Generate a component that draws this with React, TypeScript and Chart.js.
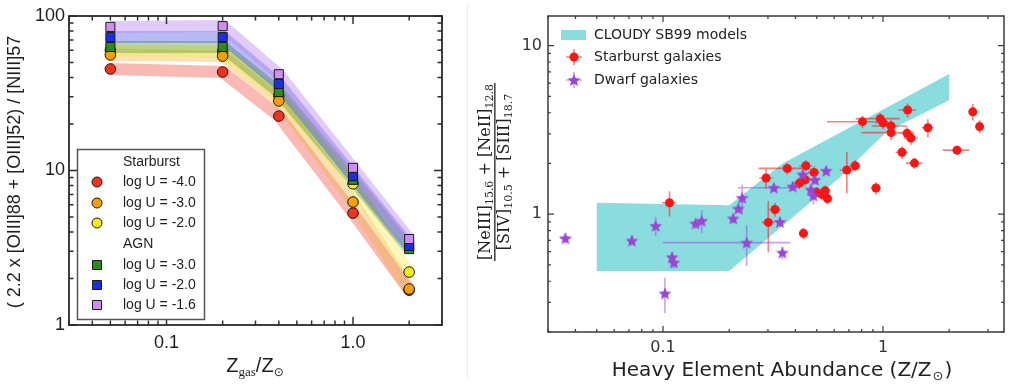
import React, { useEffect, useRef } from "react";
import { Chart, registerables } from "chart.js";
Chart.register(...registerables);

// ---------------- Left panel data ----------------
const Z_GRID = [0.05, 0.2, 0.4, 1.0, 2.0];
const SB_U40 = [45.4, 43.4, 22.5, 5.3, 1.68];
const SB_U30 = [56, 55, 28.2, 6.25, 1.71];
const SB_U20 = [60, 59, 30.5, 8.2, 2.2];
const AGN_U30 = [63, 63, 32.2, 8.7, 3.1];
const AGN_U20 = [73, 73, 36.3, 9.2, 3.25];
const AGN_U16 = [85, 86, 42, 10.4, 3.6];
const LEFT_LABELS = ["log U = -4.0", "log U = -3.0", "log U = -2.0", "log U = -3.0", "log U = -2.0", "log U = -1.6"];
const LEFT_X_TICKS = [0.03, 0.04, 0.05, 0.06, 0.07, 0.08, 0.09, 0.1, 0.2, 0.3, 0.4, 0.5, 0.6, 0.7, 0.8, 0.9, 1, 2, 3];
const LEFT_X_MAJOR = [0.1, 1];
const LEFT_X_MAJOR_LABELS = ["0.1", "1.0"];
const LEFT_Y_TICKS = [1, 2, 3, 4, 5, 6, 7, 8, 9, 10, 20, 30, 40, 50, 60, 70, 80, 90, 100];
const LEFT_Y_MAJOR = [1, 10, 100];
const LEFT_Y_MAJOR_LABELS = ["1", "10", "100"];

// ---------------- Right panel data ----------------
const MODEL_Z = [0.05, 0.05, 0.2, 0.35, 2.0, 2.0, 1.04, 0.64, 0.2, 0.05];
const MODEL_R = [0.46, 1.17, 1.13, 2.0, 6.8, 4.75, 3.1, 1.66, 0.46, 0.46];

const SB_Z = [0.107, 0.294, 0.367, 0.446, 0.486, 0.417, 0.443, 0.323, 0.301, 0.435, 0.5, 0.527, 0.546, 0.559, 0.685, 0.748, 0.929, 0.807, 0.972, 1.0, 1.088, 1.088, 1.294, 1.287, 1.34, 1.6, 1.22, 1.39, 2.17, 2.56, 2.75];
const SB_R = [1.17, 1.64, 1.87, 1.94, 1.77, 1.53, 1.6, 1.066, 0.894, 0.77, 1.35, 1.31, 1.38, 1.24, 1.83, 1.94, 1.43, 3.54, 3.69, 3.49, 3.34, 3.05, 4.15, 3.02, 2.83, 3.26, 2.33, 2.01, 2.4, 4.05, 3.31];
const SB_ZERR = [0.008, 0.02, 0.095, 0.03, 0.03, 0.03, 0.03, 0.02, 0.02, 0.02, 0.03, 0.03, 0.03, 0.03, 0.05, 0.04, 0.05, 0.25, 0.22, 0.08, 0.2, 0.29, 0.12, 0.1, 0.1, 0.1, 0.08, 0.12, 0.3, 0.1, 0.1];
const SB_RERR = [0.2, 0.23, 0.15, 0.15, 0.15, 0.12, 0.12, 0.1, 0.3, 0.06, 0.1, 0.1, 0.1, 0.1, 0.5, 0.15, 0.12, 0.3, 0.3, 0.3, 0.3, 0.3, 0.4, 0.25, 0.25, 0.4, 0.2, 0.15, 0.15, 0.45, 0.3];

const DW_Z = [0.036, 0.0722, 0.0926, 0.102, 0.11, 0.112, 0.1406, 0.15, 0.2085, 0.22, 0.229, 0.24, 0.34, 0.349, 0.319, 0.389, 0.432, 0.491, 0.47, 0.483, 0.552];
const DW_R = [0.72, 0.697, 0.853, 0.339, 0.556, 0.517, 0.881, 0.914, 0.943, 1.08, 1.25, 0.678, 0.9, 0.592, 1.436, 1.46, 1.72, 1.6, 1.4, 1.29, 1.81];
const DW_ZERR = [0.002, 0.003, 0.004, 0.004, 0.004, 0.004, 0.005, 0.006, 0.008, 0.008, 0.008, 0.14, 0.01, 0.01, 0.1, 0.02, 0.02, 0.02, 0.02, 0.02, 0.02];
const DW_RERR = [0.05, 0.05, 0.11, 0.08, 0.04, 0.04, 0.06, 0.14, 0.06, 0.06, 0.25, 0.185, 0.06, 0.05, 0.08, 0.08, 0.1, 0.1, 0.1, 0.15, 0.1];

const RIGHT_X_TICKS = [0.03, 0.04, 0.05, 0.06, 0.07, 0.08, 0.09, 0.1, 0.2, 0.3, 0.4, 0.5, 0.6, 0.7, 0.8, 0.9, 1, 2, 3];
const RIGHT_X_MAJOR = [0.1, 1];
const RIGHT_X_MAJOR_LABELS = ["0.1", "1"];
const RIGHT_Y_TICKS = [0.2, 0.3, 0.4, 0.5, 0.6, 0.7, 0.8, 0.9, 1, 2, 3, 4, 5, 6, 7, 8, 9, 10];
const RIGHT_Y_MAJOR = [1, 10];
const RIGHT_Y_MAJOR_LABELS = ["1", "10"];
const RIGHT_LEGEND = ["CLOUDY SB99 models", "Starburst galaxies", "Dwarf galaxies"];

// ---------------- styles ----------------
const SANS_L = '"Liberation Sans", Arial, Helvetica, sans-serif';
const SANS_R = '"DejaVu Sans", sans-serif';
const SERIF_R = '"DejaVu Serif", serif';
const MARK = ["#f0321e", "#f5a000", "#f5ea18", "#2f8a1c", "#1a2ee6", "#cf8ef0"];
const BAND = [
  "rgba(240,90,80,0.42)",
  "rgba(245,175,60,0.38)",
  "rgba(245,235,80,0.38)",
  "rgba(70,140,30,0.35)",
  "rgba(50,60,220,0.35)",
  "rgba(185,130,240,0.42)",
];
const CYAN = "#8adcde";
const RED = "#ff1414";
const PURPLE = "#9a45d6";

const near = (a: number, b: number) => Math.abs(a - b) < 1e-9 * Math.max(1, Math.abs(b));
const labelFor = (v: number, majors: number[], labels: string[]) => {
  const i = majors.findIndex((m) => near(m, v));
  return i >= 0 ? labels[i] : "";
};

function makeStar(color: string, size: number) {
  const c = document.createElement("canvas");
  c.width = size;
  c.height = size;
  const g = c.getContext("2d")!;
  const cx = size / 2, cy = size / 2 + 0.6, R = size / 2 - 0.3, r = R * 0.45;
  g.beginPath();
  for (let i = 0; i < 10; i++) {
    const ang = -Math.PI / 2 + (i * Math.PI) / 5;
    const rad = i % 2 === 0 ? R : r;
    const px = cx + rad * Math.cos(ang), py = cy + rad * Math.sin(ang);
    if (i === 0) g.moveTo(px, py);
    else g.lineTo(px, py);
  }
  g.closePath();
  g.fillStyle = color;
  g.fill();
  return c;
}

function frameTicks(chart: any, xMaj: number[], yMaj: number[], color: string, lw: number, major: number, minor: number) {
  const { ctx, chartArea: a, scales } = chart;
  const xs = scales.x, ys = scales.y;
  ctx.save();
  ctx.strokeStyle = color;
  ctx.lineWidth = lw * 0.8;
  ctx.beginPath();
  for (const t of xs.ticks) {
    const px = xs.getPixelForValue(t.value);
    const len = xMaj.some((m) => near(m, t.value)) ? major : minor;
    ctx.moveTo(px, a.bottom);
    ctx.lineTo(px, a.bottom - len);
    ctx.moveTo(px, a.top);
    ctx.lineTo(px, a.top + len);
  }
  for (const t of ys.ticks) {
    const py = ys.getPixelForValue(t.value);
    const len = yMaj.some((m) => near(m, t.value)) ? major : minor;
    ctx.moveTo(a.left, py);
    ctx.lineTo(a.left + len, py);
    ctx.moveTo(a.right, py);
    ctx.lineTo(a.right - len, py);
  }
  ctx.stroke();
  ctx.lineWidth = lw;
  ctx.strokeRect(a.left, a.top, a.right - a.left, a.bottom - a.top);
  ctx.restore();
}

function logAxis(min: number, max: number, ticks: number[], majors: number[], labels: string[], font: any, color: string, padding: number, fit: (s: any) => void) {
  return {
    type: "logarithmic" as const,
    min,
    max,
    afterBuildTicks: (s: any) => {
      s.ticks = ticks.map((v) => ({ value: v }));
    },
    afterFit: fit,
    ticks: {
      autoSkip: false,
      maxRotation: 0,
      minRotation: 0,
      padding,
      font,
      color,
      callback: (v: any) => labelFor(Number(v), majors, labels),
    },
    grid: { display: false, drawTicks: false },
    border: { display: false },
  };
}

export default function App() {
  const leftRef = useRef<HTMLCanvasElement>(null);
  const rightRef = useRef<HTMLCanvasElement>(null);

  useEffect(() => {
    // ---------------- LEFT ----------------
    const series = [SB_U40, SB_U30, SB_U20, AGN_U30, AGN_U20, AGN_U16];
    const styles = ["circle", "circle", "circle", "rect", "rect", "rect"];
    const markerOrder = [16, 14, 15, 13, 12, 11];
    const leftDatasets: any[] = [];
    series.forEach((vals, i) => {
      leftDatasets.push({
        label: "band " + LEFT_LABELS[i],
        data: Z_GRID.map((z, k) => ({ x: z, y: vals[k] })),
        borderColor: BAND[i],
        borderWidth: 12,
        borderCapStyle: "butt",
        borderJoinStyle: "miter",
        pointRadius: 0,
        fill: false,
        tension: 0,
        order: 26 - i,
      });
    });
    series.forEach((vals, i) => {
      leftDatasets.push({
        label: LEFT_LABELS[i],
        data: Z_GRID.map((z, k) => ({ x: z, y: vals[k] })),
        showLine: false,
        pointStyle: styles[i],
        pointRadius: styles[i] === "circle" ? 5.3 : 6.4,
        pointBackgroundColor: MARK[i],
        pointBorderColor: "#1a1a1a",
        pointBorderWidth: 1,
        order: markerOrder[i],
      });
    });

    const leftPlugin = {
      id: "leftDeco",
      afterDatasetsDraw(chart: any) {
        frameTicks(chart, LEFT_X_MAJOR, LEFT_Y_MAJOR, "#2a2a2a", 1.8, 8, 4.5);
      },
      afterDraw(chart: any) {
        const ctx = chart.ctx as CanvasRenderingContext2D;
        ctx.save();
        // legend box
        ctx.fillStyle = "#fff";
        ctx.fillRect(77, 149, 127, 170);
        ctx.strokeStyle = "#555";
        ctx.lineWidth = 1.5;
        ctx.strokeRect(77.5, 149.5, 127, 170);
        ctx.font = `14px ${SANS_L}`;
        ctx.fillStyle = "#1e1e1e";
        ctx.textBaseline = "middle";
        ctx.textAlign = "left";
        ctx.fillText("Starburst", 123, 162);
        ctx.fillText("AGN", 123, 244);
        const rowsY = [182, 203, 223, 265, 285, 305];
        rowsY.forEach((yy, i) => {
          ctx.fillStyle = MARK[i];
          ctx.strokeStyle = "#1a1a1a";
          ctx.lineWidth = 1;
          ctx.beginPath();
          if (i < 3) ctx.arc(97, yy, 5, 0, Math.PI * 2);
          else ctx.rect(92.5, yy - 4.5, 9, 9);
          ctx.fill();
          ctx.stroke();
          ctx.fillStyle = "#1e1e1e";
          ctx.fillText(LEFT_LABELS[i], 123, yy);
        });
        // y title
        ctx.save();
        ctx.translate(15, 172);
        ctx.rotate(-Math.PI / 2);
        ctx.textAlign = "center";
        ctx.textBaseline = "middle";
        ctx.font = `18px ${SANS_L}`;
        ctx.fillStyle = "#1e1e1e";
        ctx.fillText("( 2.2 x [OIII]88 + [OIII]52) / [NIII]57", 0, 0);
        ctx.restore();
        // x title Z_gas/Z_sun
        const big = `20px ${SANS_L}`, sub = `13px "Liberation Serif", serif`, sun = `12px ${SANS_R}`;
        ctx.textBaseline = "alphabetic";
        ctx.font = big;
        const w1 = ctx.measureText("Z").width, w3 = ctx.measureText("/Z").width;
        ctx.font = sub;
        const w2 = ctx.measureText("gas").width;
        ctx.font = sun;
        const w4 = ctx.measureText("\u2299").width;
        let x0 = 255 - (w1 + w2 + w3 + w4) / 2;
        ctx.fillStyle = "#1e1e1e";
        ctx.font = big;
        ctx.fillText("Z", x0, 372);
        x0 += w1;
        ctx.font = sub;
        ctx.fillText("gas", x0, 376);
        x0 += w2;
        ctx.font = big;
        ctx.fillText("/Z", x0, 372);
        x0 += w3;
        ctx.font = sun;
        ctx.fillText("\u2299", x0, 376);
        ctx.restore();
      },
    };

    const leftChart = new Chart(leftRef.current!, {
      type: "line",
      data: { datasets: leftDatasets },
      options: {
        responsive: false,
        animation: false,
        devicePixelRatio: 1,
        events: [],
        layout: { padding: { top: 16, right: 18, left: 0, bottom: 0 } },
        plugins: { legend: { display: false }, tooltip: { enabled: false } },
        scales: {
          x: logAxis(0.03, 3.0, LEFT_X_TICKS, LEFT_X_MAJOR, LEFT_X_MAJOR_LABELS, { family: SANS_L, size: 18 }, "#1e1e1e", 7, (s: any) => { s.height = 61; }),
          y: logAxis(1, 100, LEFT_Y_TICKS, LEFT_Y_MAJOR, LEFT_Y_MAJOR_LABELS, { family: SANS_L, size: 18 }, "#1e1e1e", 4, (s: any) => { s.width = 69; }),
        },
      } as any,
      plugins: [leftPlugin],
    });

    // ---------------- RIGHT ----------------
    const star = makeStar(PURPLE, 14);
    const rightDatasets: any[] = [
      {
        label: RIGHT_LEGEND[0],
        data: MODEL_Z.map((z, k) => ({ x: z, y: MODEL_R[k] })),
        borderWidth: 0,
        borderColor: CYAN,
        backgroundColor: CYAN,
        pointRadius: 0,
        fill: "shape",
        tension: 0,
        order: 3,
      },
      {
        label: RIGHT_LEGEND[1],
        data: SB_Z.map((z, k) => ({ x: z, y: SB_R[k] })),
        showLine: false,
        pointStyle: "circle",
        pointRadius: 4.5,
        pointBackgroundColor: RED,
        pointBorderColor: RED,
        pointBorderWidth: 0,
        order: 2,
      },
      {
        label: RIGHT_LEGEND[2],
        data: DW_Z.map((z, k) => ({ x: z, y: DW_R[k] })),
        showLine: false,
        pointStyle: star,
        pointRadius: 7,
        order: 1,
      },
    ];

    const drawErr = (chart: any, zs: number[], rs: number[], ze: number[], re: number[], color: string) => {
      const { ctx, scales, chartArea: a } = chart;
      const x = scales.x, y = scales.y;
      ctx.save();
      ctx.beginPath();
      ctx.rect(a.left, a.top, a.right - a.left, a.bottom - a.top);
      ctx.clip();
      ctx.strokeStyle = color;
      ctx.lineWidth = 1.6;
      ctx.beginPath();
      for (let i = 0; i < zs.length; i++) {
        const px = x.getPixelForValue(zs[i]);
        const py = y.getPixelForValue(rs[i]);
        const xl = x.getPixelForValue(Math.max(zs[i] - ze[i], 1e-3));
        const xr = x.getPixelForValue(zs[i] + ze[i]);
        const yl = y.getPixelForValue(Math.max(rs[i] - re[i], 1e-3));
        const yh = y.getPixelForValue(rs[i] + re[i]);
        ctx.moveTo(xl, py);
        ctx.lineTo(xr, py);
        ctx.moveTo(px, yl);
        ctx.lineTo(px, yh);
      }
      ctx.stroke();
      ctx.restore();
    };

    const rightPlugin = {
      id: "rightDeco",
      afterDatasetDraw(chart: any, args: any) {
        if (args.index === 0) {
          drawErr(chart, SB_Z, SB_R, SB_ZERR, SB_RERR, "rgba(255,20,20,0.55)");
          drawErr(chart, DW_Z, DW_R, DW_ZERR, DW_RERR, "rgba(154,69,214,0.5)");
        }
      },
      afterDatasetsDraw(chart: any) {
        frameTicks(chart, RIGHT_X_MAJOR, RIGHT_Y_MAJOR, "#3a3a3a", 1.5, 6, 3);
      },
      afterDraw(chart: any) {
        const ctx = chart.ctx as CanvasRenderingContext2D;
        ctx.save();
        // legend
        ctx.fillStyle = CYAN;
        ctx.fillRect(101, 30, 25, 10);
        ctx.strokeStyle = "rgba(255,20,20,0.55)";
        ctx.lineWidth = 1.6;
        ctx.beginPath();
        ctx.moveTo(106, 57); ctx.lineTo(122, 57);
        ctx.moveTo(114, 49); ctx.lineTo(114, 65);
        ctx.stroke();
        ctx.fillStyle = RED;
        ctx.beginPath();
        ctx.arc(114, 57, 4.5, 0, Math.PI * 2);
        ctx.fill();
        ctx.strokeStyle = "rgba(154,69,214,0.5)";
        ctx.beginPath();
        ctx.moveTo(106, 80); ctx.lineTo(122, 80);
        ctx.moveTo(114, 72); ctx.lineTo(114, 88);
        ctx.stroke();
        ctx.drawImage(star, 114 - 7, 80 - 7);
        ctx.font = `14px ${SANS_R}`;
        ctx.fillStyle = "#222";
        ctx.textAlign = "left";
        ctx.textBaseline = "middle";
        ctx.fillText(RIGHT_LEGEND[0], 134, 35);
        ctx.fillText(RIGHT_LEGEND[1], 134, 57);
        ctx.fillText(RIGHT_LEGEND[2], 134, 80);
        // x title
        const big = `20px ${SANS_R}`, sun = `13px ${SANS_R}`;
        ctx.textBaseline = "alphabetic";
        ctx.font = big;
        const t1 = "Heavy Element Abundance (Z/Z";
        const w1 = ctx.measureText(t1).width, w3 = ctx.measureText(")").width;
        ctx.font = sun;
        const w2 = ctx.measureText("\u2299").width;
        let x0 = 321 - (w1 + w2 + w3) / 2;
        ctx.fillStyle = "#222";
        ctx.font = big;
        ctx.fillText(t1, x0, 376);
        x0 += w1;
        ctx.font = sun;
        ctx.fillText("\u2299", x0 + 1, 380);
        x0 += w2 + 2;
        ctx.font = big;
        ctx.fillText(")", x0, 376);
        // y title (fraction)
        ctx.save();
        ctx.translate(34, 172);
        ctx.rotate(-Math.PI / 2);
        const mainF = `16px ${SERIF_R}`, subF = `11px ${SERIF_R}`;
        const drawRow = (parts: [string, boolean][], base: number) => {
          let w = 0;
          for (const [t, s] of parts) { ctx.font = s ? subF : mainF; w += ctx.measureText(t).width; }
          let xx = -w / 2;
          for (const [t, s] of parts) {
            ctx.font = s ? subF : mainF;
            ctx.fillText(t, xx, s ? base + 3 : base);
            xx += ctx.measureText(t).width;
          }
          return w;
        };
        ctx.fillStyle = "#222";
        ctx.textAlign = "left";
        ctx.textBaseline = "alphabetic";
        const wn = drawRow([["[NeIII]", false], ["15.6", true], [" + ", false], ["[NeII]", false], ["12.8", true]], -4);
        const wd = drawRow([["[SIV]", false], ["10.5", true], [" + ", false], ["[SIII]", false], ["18.7", true]], 15);
        const wl = Math.max(wn, wd) + 2;
        ctx.fillRect(-wl / 2, 0.2, wl, 1.3);
        ctx.restore();
        ctx.restore();
      },
    };

    const rightChart = new Chart(rightRef.current!, {
      type: "line",
      data: { datasets: rightDatasets },
      options: {
        responsive: false,
        animation: false,
        devicePixelRatio: 1,
        events: [],
        layout: { padding: { top: 16, right: 12, left: 0, bottom: 0 } },
        plugins: { legend: { display: false }, tooltip: { enabled: false } },
        scales: {
          x: logAxis(0.03, 3.55, RIGHT_X_TICKS, RIGHT_X_MAJOR, RIGHT_X_MAJOR_LABELS, { family: SANS_R, size: 16 }, "#333", 6, (s: any) => { s.height = 54; }),
          y: logAxis(0.2, 15, RIGHT_Y_TICKS, RIGHT_Y_MAJOR, RIGHT_Y_MAJOR_LABELS, { family: SANS_R, size: 16 }, "#333", 6, (s: any) => { s.width = 88; }),
        },
      } as any,
      plugins: [rightPlugin],
    });

    return () => {
      leftChart.destroy();
      rightChart.destroy();
    };
  }, []);

  return (
    <div style={{ position: "absolute", left: 0, top: 0, width: 1016, height: 386, background: "#fff", overflow: "hidden" }}>
      <canvas ref={leftRef} width={460} height={386} style={{ position: "absolute", left: 0, top: 0, width: 460, height: 386 }} />
      <div style={{ position: "absolute", left: 467, top: 4, width: 1, height: 374, background: "#ededed" }} />
      <canvas ref={rightRef} width={556} height={386} style={{ position: "absolute", left: 460, top: 0, width: 556, height: 386 }} />
    </div>
  );
}
